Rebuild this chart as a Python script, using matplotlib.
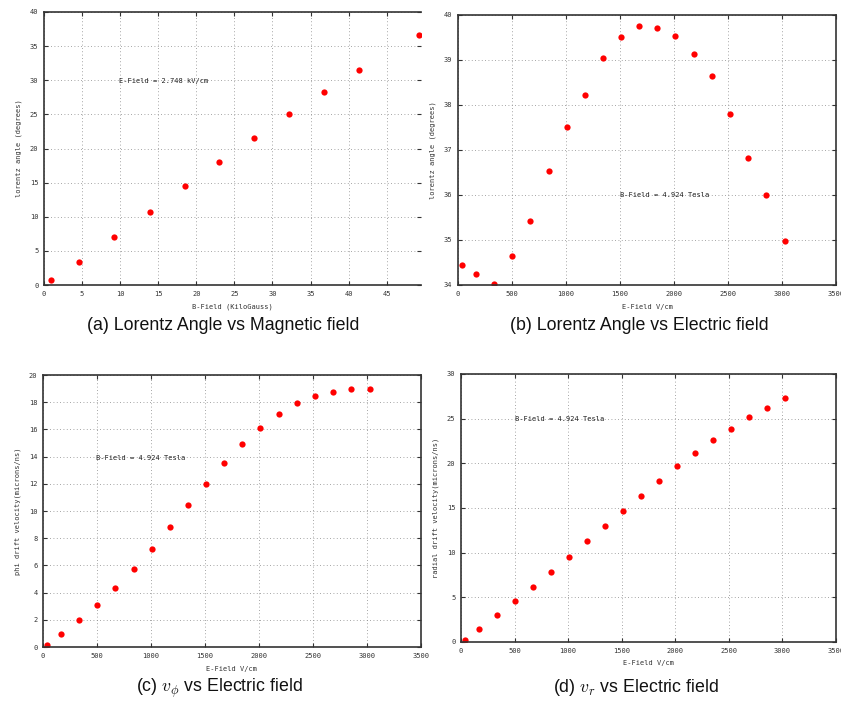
import matplotlib
matplotlib.use("Agg")
import matplotlib.pyplot as plt

plt.rcParams['mathtext.fontset'] = 'cm'

# ---- data ----
b_field_kg = [0.88, 4.6, 9.2, 13.86, 18.5, 23.0, 27.6, 32.2, 36.8, 41.4, 49.2]
angle_vs_b = [0.73, 3.37, 7.1, 10.7, 14.5, 17.95, 21.6, 25.0, 28.3, 31.5, 36.7]

e_field = [34, 170, 337, 504, 671, 841, 1005, 1175, 1342, 1509, 1676, 1846,
           2013, 2183, 2350, 2517, 2687, 2854, 3024]
angle_vs_e = [34.44, 34.24, 34.03, 34.64, 35.42, 36.53, 37.50, 38.23, 39.04, 39.50,
              39.76, 39.71, 39.53, 39.14, 38.64, 37.81, 36.83, 36.01, 34.98]
v_phi = [0.12, 0.93, 1.96, 3.09, 4.32, 5.77, 7.24, 8.86, 10.43, 12.0,
         13.55, 14.9, 16.12, 17.13, 17.91, 18.43, 18.77, 18.94, 18.94]
v_r = [0.26, 1.42, 2.99, 4.56, 6.2, 7.84, 9.56, 11.28, 12.93, 14.72,
       16.36, 18.0, 19.65, 21.14, 22.56, 23.87, 25.18, 26.22, 27.27]

captions = ["(a) Lorentz Angle vs Magnetic field",
            "(b) Lorentz Angle vs Electric field",
            r"(c) $v_\phi$ vs Electric field",
            r"(d) $v_r$ vs Electric field"]

W, H = 841, 705
fig = plt.figure(figsize=(W / 100, H / 100), dpi=100)

def px_axes(l, r, t, b):
    return fig.add_axes([l / W, (H - b) / H, (r - l) / W, (b - t) / H])

mono = 'DejaVu Sans Mono'
small = 5

def style(ax, xlim, ylim, xticks, yticks, xlabel, ylabel, hide_right=False):
    ax.set_xlim(*xlim)
    ax.set_ylim(*ylim)
    ax.set_xticks(xticks)
    ax.set_yticks(yticks)
    ax.grid(True, linestyle=(0, (1, 3)), color='#888888', linewidth=0.6)
    ax.tick_params(direction='in', length=3, width=0.8, top=True, right=True,
                   labelsize=small, pad=4, colors='#333333')
    for lab in ax.get_xticklabels() + ax.get_yticklabels():
        lab.set_family(mono)
    for s in ax.spines.values():
        s.set_linewidth(1.2)
        s.set_color('#333333')
    if hide_right:
        ax.spines['right'].set_visible(False)
    ax.set_xlabel(xlabel, fontsize=small, family=mono, color='#333333', labelpad=5)
    ax.set_ylabel(ylabel, fontsize=small, family=mono, color='#333333', labelpad=6)

mk = dict(marker='o', linestyle='none', color='#ff0000', markersize=4.5,
          markeredgewidth=0)

# (a)
ax = px_axes(44, 421, 12, 285)
ax.plot(b_field_kg, angle_vs_b, **mk)
style(ax, (0, 49.5), (0, 40), range(0, 50, 5), range(0, 41, 5),
      "B-Field (KiloGauss)", "lorentz angle (degrees)", hide_right=True)
ax.text(9.9, 29.9, "E-Field = 2.748 kV/cm", fontsize=small, family=mono,
        va='center', color='#222222')

# (b)
ax = px_axes(458, 836, 15, 285)
ax.plot(e_field, angle_vs_e, **mk)
style(ax, (0, 3500), (34, 40), range(0, 3501, 500), range(34, 41, 1),
      "E-Field V/cm", "lorentz angle (degrees)")
ax.text(1500, 36.0, "B-Field = 4.924 Tesla", fontsize=small, family=mono,
        va='center', color='#222222')

# (c)
ax = px_axes(43, 421, 375, 647)
ax.plot(e_field, v_phi, **mk)
style(ax, (0, 3500), (0, 20), range(0, 3501, 500), range(0, 21, 2),
      "E-Field V/cm", "phi drift velocity(microns/ns)")
ax.text(493, 13.9, "B-Field = 4.924 Tesla", fontsize=small, family=mono,
        va='center', color='#222222')

# (d)
ax = px_axes(461, 836, 374, 642)
ax.plot(e_field, v_r, **mk)
style(ax, (0, 3500), (0, 30), range(0, 3501, 500), range(0, 31, 5),
      "E-Field V/cm", "radial drift velocity(microns/ns)")
ax.text(504, 25.0, "B-Field = 4.924 Tesla", fontsize=small, family=mono,
        va='center', color='#222222')

cap_pos = [(223, 325), (639, 325), (219, 688), (636, 688)]
for (cx, cy), txt in zip(cap_pos, captions):
    fig.text(cx / W, (H - cy) / H, txt, ha='center', va='center',
             fontsize=12.8, family=['Liberation Sans', 'DejaVu Sans'], color='#111111')

fig.savefig("out.png", dpi=100)
